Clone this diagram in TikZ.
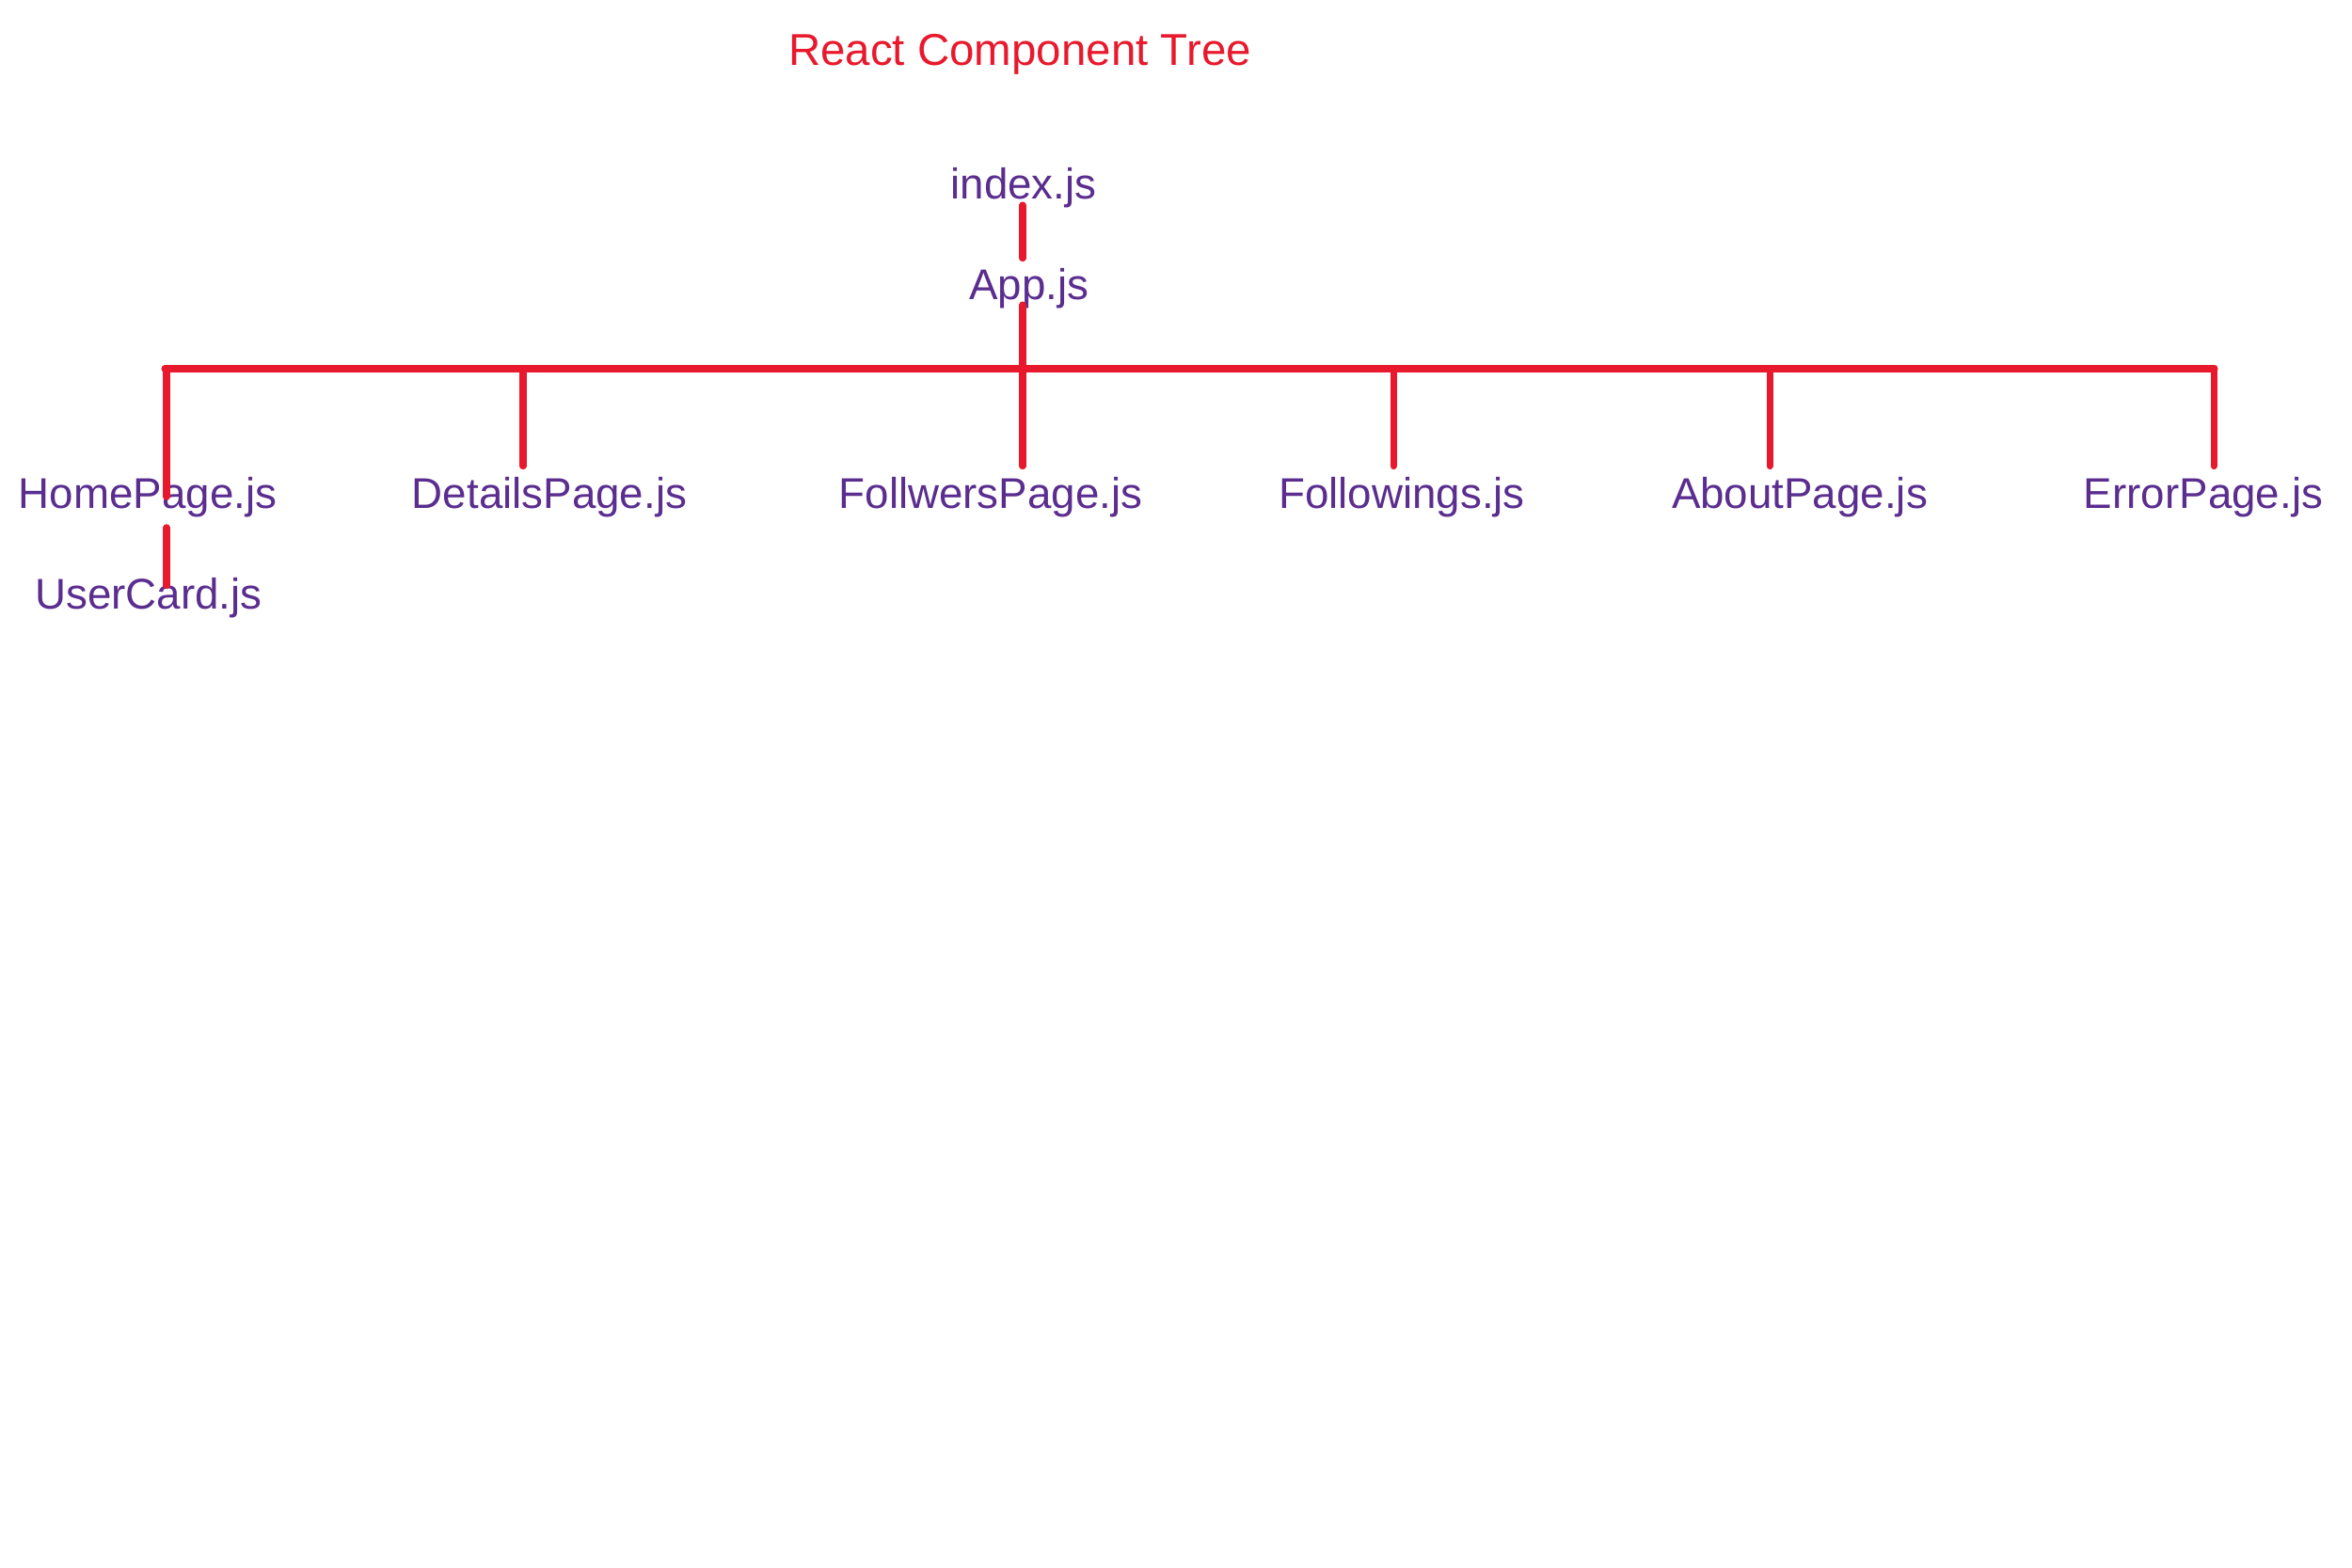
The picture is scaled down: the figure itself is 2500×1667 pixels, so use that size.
\documentclass[tikz,border=0pt]{standalone}
\usepackage{fontspec}
\setmainfont{Liberation Sans}
\usetikzlibrary{positioning,calc}
\definecolor{rojo}{HTML}{E8192C}
\definecolor{morado}{HTML}{5A2D8F}

\begin{document}
\begin{tikzpicture}[x=0.01cm,y=-0.01cm,
    rama/.style={rojo,line width=2pt,line cap=round},
    hoja/.style={morado,font=\fontsize{13}{16}\selectfont,inner sep=3pt,anchor=base}]
    \useasboundingbox (0,0) rectangle (2500,1667);
    \node[hoja,rojo,font=\fontsize{13.5}{16}\selectfont] (titulo) at (1084,70) {React Component Tree};
    \node[hoja] (index) at (1088,212) {index.js};
    \node[hoja] (app) at (1094,319) {App.js};
    \coordinate (hub) at (1087,392);
    \coordinate (barra-izq) at (175,392);
    \coordinate (barra-der) at (2354,392);
    \draw[rama] ($(index.base -| hub)+(0,6)$) -- (app.north -| hub);
    \draw[rama] ($(app.base -| hub)+(0,5)$) -- (hub);
    \draw[rama] (barra-izq) -- (barra-der);
    \foreach \n/\lx/\tx/\a/\t in {home/177/157/center/HomePage.js,details/556/584/north/DetailsPage.js,
        follwers/1087/1053/north/FollwersPage.js,followings/1481/1490/north/Followings.js,
        about/1881/1913/north/AboutPage.js,error/2353/2342/north/ErrorPage.js}{
      \node[hoja] (\n) at (\tx,540) {\t};
      \coordinate (j-\n) at (\lx,392);
      \draw[rama] (j-\n) -- (j-\n |- \n.\a);
    }
    \node[hoja] (card) at (158,647) {UserCard.js};
    \draw[rama] (home.south -| j-home) -- ($(card.north -| j-home)+(0,20)$);
  \end{tikzpicture}
\end{document}
